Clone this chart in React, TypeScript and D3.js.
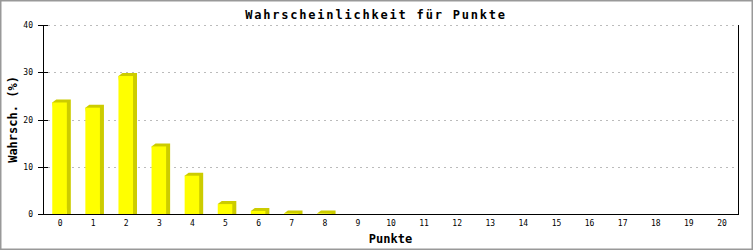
import React from "react";
import * as d3 from "d3";

const categories = ["0","1","2","3","4","5","6","7","8","9","10","11","12","13","14","15","16","17","18","19","20"];
const values = [23.6, 22.5, 29.2, 14.3, 8.1, 2.1, 0.65, 0.12, 0.08, 0, 0, 0, 0, 0, 0, 0, 0, 0, 0, 0, 0];
const yTicks = [0, 10, 20, 30, 40];
const title = "Wahrscheinlichkeit für Punkte";
const xTitle = "Punkte";
const yTitle = "Wahrsch. (%)";

const W = 753, H = 250;
const L = 43, R = 738, T = 25, B = 214;
const mono = "'DejaVu Sans Mono', 'Liberation Mono', monospace";

export default function App() {
  const x = d3.scaleBand<string>().domain(categories).range([L, R]).padding(0);
  const y = d3.scaleLinear().domain([0, 40]).range([B, T]);
  const bw = x.bandwidth() * 0.44;
  const sx = 4, sy = 3;
  return (
    <svg width={W} height={H} style={{ position: "absolute", left: 0, top: 0, display: "block" }}>
      <rect x={0} y={0} width={W} height={H} fill="#ffffff" />
      <rect x={0.75} y={0.75} width={W - 1.5} height={H - 1.5} fill="none" stroke="#999999" strokeWidth={1.5} />
      {yTicks.filter(t => t > 0).map(t => (
        <line key={"g" + t} x1={L + 5} x2={R} y1={Math.round(y(t)) + 0.5} y2={Math.round(y(t)) + 0.5}
          stroke="#bbbbbb" strokeDasharray="2 4" />
      ))}
      {values.map((v, i) => {
        if (v <= 0) return null;
        const c = (x(categories[i]) as number) + x.bandwidth() / 2;
        const x0 = c - bw / 2, x1 = c + bw / 2;
        const yt = y(v);
        const pts = [[x0, yt], [x0 + sx, yt - sy], [x1 + sx, yt - sy], [x1 + sx, B], [x1, B]]
          .map(p => p.join(",")).join(" ");
        return (
          <g key={"b" + i}>
            <polygon points={pts} fill="#cccc00" />
            <rect x={x0} y={yt} width={bw} height={B - yt} fill="#ffff00" />
          </g>
        );
      })}
      <line x1={L + 0.5} x2={L + 0.5} y1={T} y2={B + 1} stroke="#000" />
      <line x1={R + 0.5} x2={R + 0.5} y1={T} y2={B + 1} stroke="#000" />
      <line x1={L} x2={R + 1} y1={B + 0.5} y2={B + 0.5} stroke="#000" />
      {yTicks.map(t => (
        <g key={"t" + t}>
          <line x1={L - 5} x2={L + 5} y1={Math.round(y(t)) + 0.5} y2={Math.round(y(t)) + 0.5} stroke="#000" />
          <text x={33} y={y(t) + 3} textAnchor="end" fontFamily={mono} fontSize={8}>{t}</text>
        </g>
      ))}
      {categories.map(cat => (
        <text key={"x" + cat} x={(x(cat) as number) + x.bandwidth() / 2 + 0.5} y={226} textAnchor="middle"
          fontFamily={mono} fontSize={8}>{cat}</text>
      ))}
      <text x={376} y={18.5} textAnchor="middle" fontFamily={mono} fontWeight="bold" fontSize={12}
        letterSpacing={1.8}>{title}</text>
      <text x={(L + R) / 2} y={243} textAnchor="middle" fontFamily={mono} fontWeight="bold" fontSize={12}>{xTitle}</text>
      <text transform={`translate(17,${(T + B) / 2}) rotate(-90)`} textAnchor="middle" fontFamily={mono}
        fontWeight="bold" fontSize={12}>{yTitle}</text>
    </svg>
  );
}
